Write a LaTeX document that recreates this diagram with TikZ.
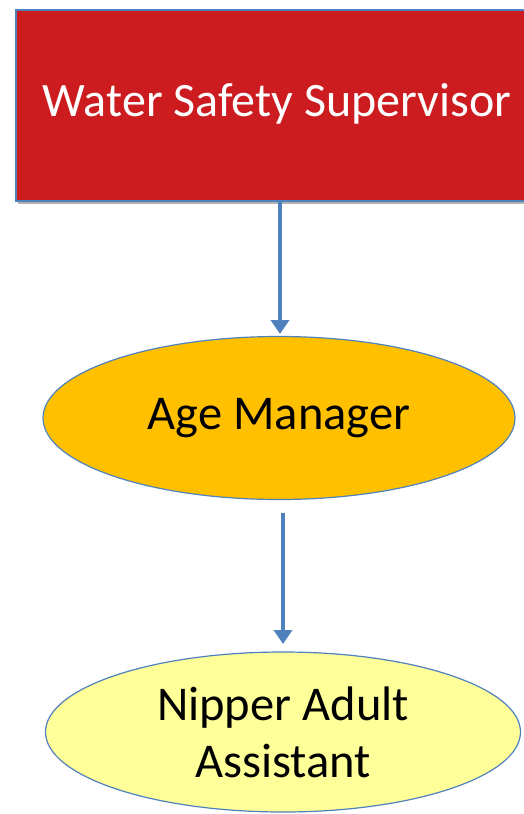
\documentclass[tikz,border=0pt]{standalone}
\usepackage{fontspec}
\setmainfont{Carlito}
\usetikzlibrary{shapes.geometric,arrows.meta}
\definecolor{boxred}{HTML}{CC1C20}
\definecolor{edgeblue}{HTML}{4F81BD}
\definecolor{ageorange}{HTML}{FFC000}
\definecolor{nipyellow}{HTML}{FFFF99}
\tikzset{
  redbox/.style={draw=edgeblue, line width=2pt, fill=boxred, minimum width=530pt, minimum height=191pt, inner sep=0pt},
  oval/.style={ellipse, draw=edgeblue, line width=1.2pt, inner sep=0pt, font=\fontsize{48.5}{57}\selectfont, align=center},
  link/.style={draw=edgeblue, line width=4pt, -{Triangle[length=14pt,width=18pt]}}
}
\begin{document}
\begin{tikzpicture}[x=1pt,y=-1pt]
\useasboundingbox (0,0) rectangle (523,814);
\fill[black!30] (18,12) rectangle (560,204);
\node[redbox, anchor=north west] (wss) at (15,9) {};
\node[text=white, font=\fontsize{48}{56}\selectfont] (wsst) at (277,104) {Water Safety Supervisor};
\node[oval, fill=ageorange, minimum width=472pt, minimum height=163pt] (age) at (279,418) {Age Manager};
\node[oval, fill=nipyellow, minimum width=475pt, minimum height=160pt] (nip) at (283,732) {Nipper Adult\\Assistant};
\draw[link] (wss.south -| 280,0) -- (280,334);
\coordinate (a2s) at (283,513);
\coordinate (a2e) at (283,644);
\draw[link] (a2s) -- (a2e);
\end{tikzpicture}
\end{document}
